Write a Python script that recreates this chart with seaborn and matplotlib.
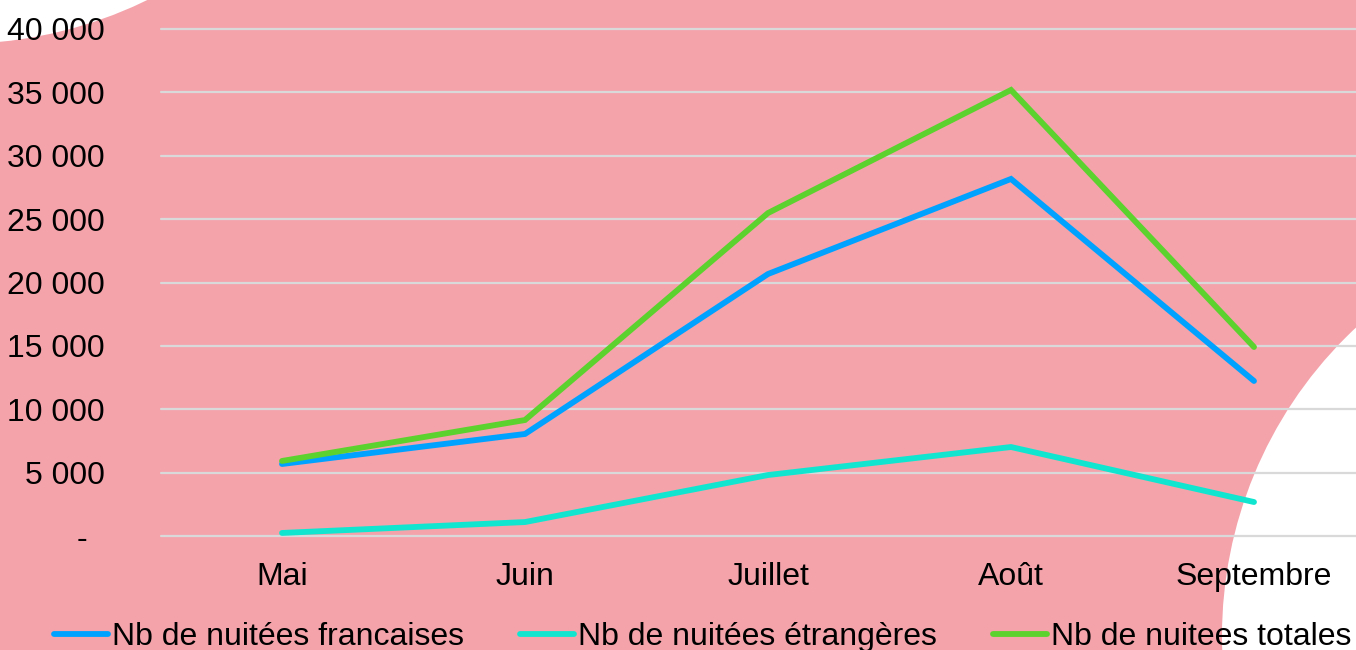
import matplotlib
matplotlib.use("Agg")
import matplotlib.pyplot as plt
from matplotlib.patches import Circle
import seaborn as sns
import pandas as pd

months = ["Mai", "Juin", "Juillet", "Août", "Septembre"]
francaises = [5680, 8050, 20670, 28170, 12230]
etrangeres = [240, 1100, 4810, 7020, 2680]
totales = [5920, 9150, 25480, 35190, 14910]
series_names = ["Nb de nuitées francaises", "Nb de nuitées étrangères", "Nb de nuitees totales"]
y_ticks = [0, 5000, 10000, 15000, 20000, 25000, 30000, 35000, 40000]
y_labels = ["-  ", "5 000", "10 000", "15 000", "20 000", "25 000", "30 000", "35 000", "40 000"]
colors = ["#00A2FF", "#12E5CF", "#5CD22E"]

rows = []
for name, vals in zip(series_names, [francaises, etrangeres, totales]):
    for m, v in zip(months, vals):
        rows.append({"Mois": m, "Valeur": v, "Serie": name})
df = pd.DataFrame(rows)

sns.set_theme(style="white")
plt.rcParams["font.family"] = ["Liberation Sans", "DejaVu Sans"]
plt.rcParams["text.color"] = "black"

PINK = "#F4A3AB"
W, H = 1356, 650
FS = 23
LW = 4.2
fig = plt.figure(figsize=(W / 100, H / 100), dpi=100, facecolor=PINK)

bg = fig.add_axes([0, 0, 1, 1], zorder=-5)
bg.set_xlim(0, W)
bg.set_ylim(H, 0)
bg.axis("off")
bg.add_patch(Circle((-43, -390), 434, color="white", lw=0))
bg.add_patch(Circle((1644, 636), 422, color="white", lw=0))

ax = fig.add_axes([160.5 / W, (H - 536) / H, 1215 / W, 507 / H], zorder=1)
ax.set_facecolor("none")

sns.lineplot(data=df, x="Mois", y="Valeur", hue="Serie", palette=colors,
             linewidth=LW, ax=ax, sort=False, zorder=3)
for ln in ax.get_lines():
    ln.set_solid_capstyle("round")
    ln.set_solid_joinstyle("miter")

ax.set_xlim(-0.5, 4.5)
ax.set_ylim(0, 40000)
ax.set_yticks(y_ticks)
ax.set_yticklabels(y_labels)
ax.set_xlabel("")
ax.set_ylabel("")
for s in ax.spines.values():
    s.set_visible(False)
ax.yaxis.grid(True, color="#D9D9D9", linewidth=1.6)
ax.xaxis.grid(False)
ax.set_axisbelow(True)
for gl in ax.get_ygridlines():
    gl.set_clip_on(False)
ax.tick_params(axis="y", length=0, pad=40, labelsize=FS, labelcolor="black")
ax.tick_params(axis="x", length=0, pad=19, labelsize=FS, labelcolor="black")

handles, labels = ax.get_legend_handles_labels()
ax.get_legend().remove()
leg = fig.legend(handles, labels, loc="center left",
                 bbox_to_anchor=(54 / W, 1 - 637 / H), ncol=3, frameon=False,
                 fontsize=FS, handlelength=1.7, handletextpad=0.12,
                 columnspacing=1.75, borderpad=0, borderaxespad=0)
for t in leg.get_texts():
    t.set_color("black")
for lh in leg.get_lines():
    lh.set_linewidth(LW)
    lh.set_solid_capstyle("round")

fig.savefig("out.png", dpi=100, facecolor=PINK)
